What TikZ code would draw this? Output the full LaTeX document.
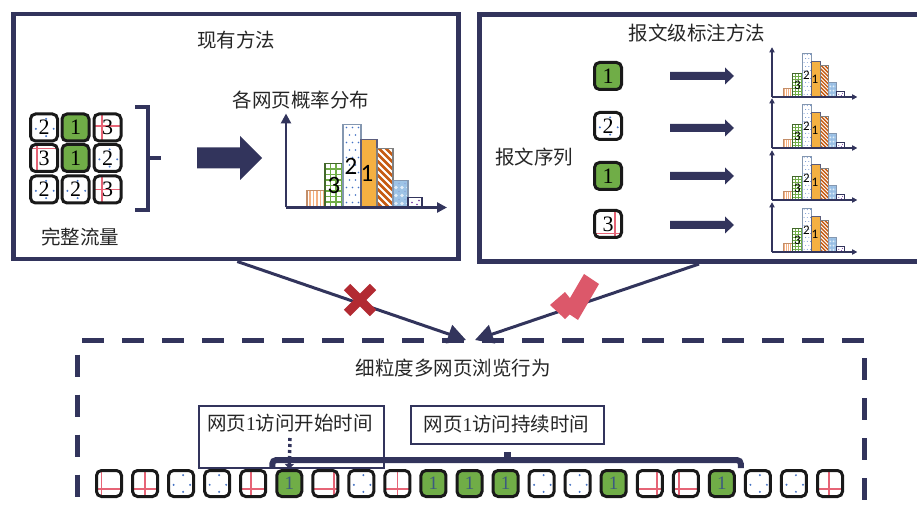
\documentclass[tikz,border=0pt]{standalone}
\usepackage{fontspec}
\setmainfont{Liberation Serif}
\newfontfamily\cjk{Noto Sans CJK SC}
\newfontfamily\carl{Carlito}
\usetikzlibrary{arrows.meta,calc}
\definecolor{navy}{RGB}{50,52,92}
\definecolor{sqgreen}{RGB}{112,173,71}
\definecolor{redl}{RGB}{230,100,118}
\definecolor{dotblue}{RGB}{68,114,196}
\definecolor{peach}{RGB}{244,177,131}
\definecolor{barorange}{RGB}{244,176,66}
\definecolor{stripebrown}{RGB}{197,90,17}
\definecolor{lightblue}{RGB}{157,195,230}
\definecolor{gridgreen}{RGB}{112,173,71}
\definecolor{barblue}{RGB}{132,151,176}
\definecolor{purp}{RGB}{112,48,160}
\definecolor{xred}{RGB}{178,42,50}
\definecolor{checkpink}{RGB}{220,88,106}
\definecolor{txt}{RGB}{38,38,38}
\definecolor{onecol}{RGB}{60,90,128}

\tikzset{
  sq/.style={draw=black!90, line width=3pt, rounded corners=5pt, inner sep=0pt, font=\fontsize{22}{22}\selectfont},
  ttl/.style={font=\cjk\fontsize{19.5}{22}\selectfont, text=txt, inner sep=0pt},
  frame/.style={draw=navy, line width=4.5pt, inner sep=0pt, anchor=north west},
  thinbox/.style={draw=navy, line width=2pt, fill=white, inner sep=0pt, anchor=north west},
  blockarrow/.style={fill=navy},
  vline/.style={draw=navy, line width=3pt, -{Triangle[length=18pt,width=19pt]}},
}

\newcommand\mySqG[7]{%
  \node[sq, fill=sqgreen, minimum width=#4, minimum height=#5, text=#7] (#1) at (#2,#3) {#6};}
\newcommand\mySqD[6]{%
  \node[sq, fill=white, minimum width=#4, minimum height=#5] (#1) at (#2,#3) {#6};
  \fill[dotblue] ({#2+0.08*#4},{#3-0.32*#5}) circle[radius=1.1];
  \fill[dotblue] ({#2-0.3*#4},{#3+0.05*#5}) circle[radius=1.1];
  \fill[dotblue] ({#2+0.36*#4},{#3+0.05*#5}) circle[radius=1.1];
  \fill[dotblue] ({#2+0.08*#4},{#3+0.32*#5}) circle[radius=1.1];}
\newcommand\mySqR[8]{%
  \begin{scope}
    \clip[rounded corners=5pt] ({#2-#4/2},{#3-#5/2}) rectangle ({#2+#4/2},{#3+#5/2});
    \fill[white] ({#2-#4/2},{#3-#5/2}) rectangle ({#2+#4/2},{#3+#5/2});
    \draw[redl, line width=1.7pt] ({#2-#4/2+#6*#4},{#3-#5/2}) -- ({#2-#4/2+#6*#4},{#3+#5/2});
    \draw[redl, line width=1.7pt] ({#2-#4/2},{#3-#5/2+#7*#5}) -- ({#2+#4/2},{#3-#5/2+#7*#5});
  \end{scope}
  \node[sq, minimum width=#4, minimum height=#5] (#1) at (#2,#3) {#8};}

\newcommand\myChart[5]{%
\begin{scope}[shift={(#1,#2)}, yscale=-1, scale=#3]
  % bar 1
  \fill[white] (21,0) rectangle (39,17);
  \begin{scope}
    \clip (21,0) rectangle (39,17);
    \foreach \k in {24,27.5,...,38} \draw[peach, line width={#3*1.8pt}] (\k,0) -- (\k,17);
  \end{scope}
  \draw[peach!80!black, line width={#3*1.2pt}] (21,0) rectangle (39,17);
  % bar 2
  \fill[white] (39,0) rectangle (57,44);
  \begin{scope}
    \clip (39,0) rectangle (57,44);
    \foreach \k in {44.5,50,...,57} \draw[gridgreen, line width={#3*1.2pt}] (\k,0) -- (\k,44);
    \foreach \k in {5.5,11,...,44} \draw[gridgreen, line width={#3*1.2pt}] (39,\k) -- (57,\k);
  \end{scope}
  \draw[gridgreen!60!black, line width={#3*1.4pt}] (39,0) rectangle (57,44);
  % bar 3
  \fill[white] (57,0) rectangle (75,83);
  \foreach \yy in {5,20,...,80} \foreach \xx in {60.5,66.5,72.5} \fill[dotblue] (\xx,\yy) circle[radius=0.8];
  \foreach \yy in {12.5,27.5,...,80} \foreach \xx in {63.5,69.5} \fill[dotblue] (\xx,\yy) circle[radius=0.8];
  \draw[barblue, line width={#3*1.4pt}] (57,0) rectangle (75,83);
  % bar 4
  \fill[barorange] (75,0) rectangle (91,68);
  \draw[navy!80, line width={#3*1.4pt}] (75,0) rectangle (91,68);
  % bar 5
  \fill[white] (91,0) rectangle (107,59);
  \begin{scope}
    \clip (91,0) rectangle (107,59);
    \foreach \k in {0,7,...,84} \draw[stripebrown, line width={#3*2.6pt}] (89,\k) -- ++(22,-22);
  \end{scope}
  \draw[gray, line width={#3*1.2pt}] (91,0) rectangle (107,59);
  % bar 6
  \fill[lightblue] (107,0) rectangle (122,27);
  \begin{scope}
    \clip (107,0) rectangle (122,27);
    \foreach \yy in {4,12,...,28} \foreach \xx in {110,116,122} \fill[white!70!lightblue] (\xx,\yy) circle[radius=1.8];
    \foreach \yy in {8,16,...,28} \foreach \xx in {113,119} \fill[dotblue!60] (\xx,\yy) circle[radius=0.9];
  \end{scope}
  \draw[barblue, line width={#3*1.2pt}] (107,0) rectangle (122,27);
  % bar 7
  \fill[white] (122,0) rectangle (136,10);
  \fill[purp] (126,5) circle[radius=0.9];
  \fill[purp] (131,3) circle[radius=0.9];
  \fill[purp] (133,7) circle[radius=0.9];
  \draw[navy, line width={#3*1.2pt}] (122,0) rectangle (136,10);
  % axes
  \draw[navy, line width={#3*2.5pt}, -{Triangle[length=10pt,width=10pt,scale=#3]}] (0,0) -- (0,94);
  \draw[navy, line width={#3*2.5pt}, -{Triangle[length=10pt,width=10pt,scale=#3]}] (0,0) -- (161,0);
  % labels
  \node[font=\carl\fontsize{#4}{#4}\selectfont, inner sep=0pt] (#5three) at (48,22) {3};
  \node[font=\carl\fontsize{#4}{#4}\selectfont, inner sep=0pt] (#5two) at (65,41) {2};
  \node[font=\carl\fontsize{#4}{#4}\selectfont, inner sep=0pt] (#5one) at (81,34) {1};
\end{scope}}

\begin{document}
\begin{tikzpicture}[x=1pt,y=-1pt]
\useasboundingbox (0,0) rectangle (917,510);

% ---------- frames ----------
\node[frame, minimum width=445, minimum height=245] (leftframe) at (11,12) {};
\node[frame, minimum width=450, minimum height=247] (rightframe) at (477,12.5) {};
\node[draw=navy, line width=5pt, dash pattern=on 22pt off 18pt, anchor=north west,
      minimum width=787, minimum height=172, inner sep=0pt] (finebox) at (75,338) {};

% ---------- titles ----------
\node[ttl] (t1) at (236,40) {现有方法};
\node[ttl] (t2) at (697,33) {报文级标注方法};
\node[ttl] (t3) at (301,100) {各网页概率分布};
\node[ttl] (t4) at (80,237) {完整流量};
\node[ttl] (t5) at (534,157) {报文序列};
\node[ttl] (t6) at (453,368) {细粒度多网页浏览行为};

% ---------- left panel grid ----------
\mySqD{g11}{44}{127.5}{27}{27}{2}
\mySqG{g12}{75.5}{127.5}{27}{27}{1}{black}
\mySqR{g13}{107.5}{127.5}{27}{27}{0.3}{0.45}{3}
\mySqR{g21}{44}{158}{27}{27}{0.25}{0.15}{3}
\mySqG{g22}{75.5}{158}{27}{27}{1}{black}
\mySqD{g23}{107.5}{158}{27}{27}{2}
\mySqD{g31}{44}{189.5}{27}{27}{2}
\mySqD{g32}{75.5}{189.5}{27}{27}{2}
\mySqR{g33}{107.5}{189.5}{27}{27}{0.3}{0.5}{3}

% bracket
\draw[navy, line width=4.5pt, line join=miter] (135,107) -- (148,107) -- (148,210) -- (135,210);
\draw[navy, line width=4.5pt] (148,158) -- (161,158);

% big block arrow
\fill[blockarrow] (197,147.5) -- (240,147.5) -- (240,136) -- (262,158) -- (240,180) -- (240,168.5) -- (197,168.5) -- cycle;

% big chart
\myChart{286}{207.5}{1}{25}{hb}

% ---------- right panel ----------
\mySqG{r1}{608}{76}{27}{27}{1}{black}
\mySqD{r2}{608}{126}{27}{27}{2}
\mySqG{r3}{608}{176}{27}{27}{1}{black}
\mySqR{r4}{608}{224}{27}{27}{0.75}{0.85}{3}

\foreach \yy in {76,128,176,225} {
  \fill[blockarrow] (670,\yy-4) -- (725,\yy-4) -- (725,\yy-8.5) -- (734,\yy) -- (725,\yy+8.5) -- (725,\yy+4) -- (670,\yy+4) -- cycle;
}

\myChart{772}{97}{0.53}{13}{ha}
\myChart{772}{148}{0.53}{13}{hc}
\myChart{772}{200}{0.53}{13}{hd}
\myChart{772}{252}{0.53}{13}{he}

% ---------- connectors to bottom ----------
\coordinate (tipL) at (466,340);
\coordinate (tipR) at (475,340);
\draw[vline] ([xshift=1.5pt]leftframe.south) -- (tipL);
\draw[vline] ([xshift=-1pt]rightframe.south -| 700,0) -- (tipR);

% X mark
\draw[xred, line width=9pt] (347,287) -- (373,313);
\draw[xred, line width=9pt] (373,287) -- (347,313);
% check mark (pink)
\fill[checkpink] (584,274) -- (599,284) -- (578,320) -- (563,310) -- cycle;
\fill[checkpink] (550,305) -- (565,292) -- (577,307) -- (565,319) -- cycle;

% ---------- bottom labels ----------
\node[thinbox, minimum width=185, minimum height=62] (startbox) at (198,405) {};
\node[ttl] (t7) at (290,423) {网页{\rmfamily 1}访问开始时间};
\node[thinbox, minimum width=193, minimum height=38] (durbox) at (410,405) {};
\node[ttl] (t8) at (506.5,424) {网页{\rmfamily 1}访问持续时间};

% ---------- bottom row ----------
\mySqR{s1}{109}{483.5}{25}{26}{0.2}{0.72}{}
\mySqR{s2}{145.05}{483.5}{25}{26}{0.5}{0.72}{}
\mySqD{s3}{181.1}{483.5}{25}{26}{}
\mySqD{s4}{217.15}{483.5}{25}{26}{}
\mySqR{s5}{253.2}{483.5}{25}{26}{0.4}{0.72}{}
\mySqG{s6}{289.25}{483.5}{25}{26}{\fontsize{19}{19}\selectfont 1}{onecol}
\mySqR{s7}{325.3}{483.5}{25}{26}{0.85}{0.72}{}
\mySqD{s8}{361.35}{483.5}{25}{26}{}
\mySqR{s9}{397.4}{483.5}{25}{26}{0.5}{0.72}{}
\mySqG{s10}{433.45}{483.5}{25}{26}{\fontsize{19}{19}\selectfont 1}{onecol}
\mySqG{s11}{469.5}{483.5}{25}{26}{\fontsize{19}{19}\selectfont 1}{onecol}
\mySqG{s12}{505.55}{483.5}{25}{26}{\fontsize{19}{19}\selectfont 1}{onecol}
\mySqD{s13}{541.6}{483.5}{25}{26}{}
\mySqD{s14}{577.65}{483.5}{25}{26}{}
\mySqG{s15}{613.7}{483.5}{25}{26}{\fontsize{19}{19}\selectfont 1}{onecol}
\mySqR{s16}{649.75}{483.5}{25}{26}{0.78}{0.72}{}
\mySqR{s17}{685.8}{483.5}{25}{26}{0.22}{0.72}{}
\mySqG{s18}{721.85}{483.5}{25}{26}{\fontsize{19}{19}\selectfont 1}{onecol}
\mySqD{s19}{757.9}{483.5}{25}{26}{}
\mySqD{s20}{793.95}{483.5}{25}{26}{}
\mySqR{s21}{830}{483.5}{25}{26}{0.45}{0.7}{}

% brace over page-1 visits
\draw[navy, line width=6pt, rounded corners=4pt] ($(s6.north west)+(-3,-1)$) -- ++(0,-8) -| ($(s18.north east)+(5,-1)$);
\draw[navy, line width=7pt] ($(s6.north west)!0.5!(s18.north east)+(2,-9)$) -- ++(0,-8);

% dotted pointer
\coordinate (startdot) at (290,438);
\draw[navy, line width=3.5pt, dash pattern=on 3pt off 3pt, -{Triangle[length=5pt,width=9pt]}] (startdot) -- (s6.north);
\end{tikzpicture}
\end{document}
